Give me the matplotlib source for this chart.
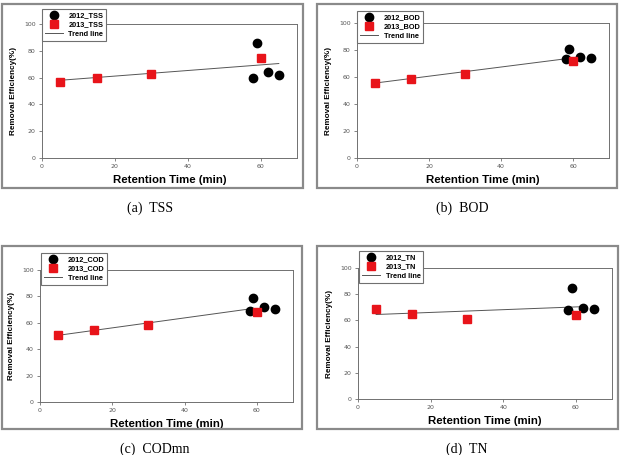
import matplotlib.pyplot as plt
from matplotlib.patches import Rectangle

# Data
x2012 = [58, 59, 62, 65]
x2013 = [5, 15, 30, 60]

tss_2012 = [60, 85.5, 64, 62]
tss_2013 = [57, 60, 63, 75]
tss_trend_x = [5, 65]
tss_trend_y = [58, 70.5]

bod_2012 = [73, 80.5, 75, 74]
bod_2013 = [55.5, 58.5, 62, 72]
bod_trend_x = [5, 58]
bod_trend_y = [55.5, 73.5]

cod_2012 = [69, 79, 72, 70.5]
cod_2013 = [51, 54.5, 58, 68.5]
cod_trend_x = [5, 58]
cod_trend_y = [50.5, 70.5]

tn_2012 = [68, 85, 69.5, 69]
tn_2013 = [68.5, 65, 61, 64.5]
tn_trend_x = [5, 62]
tn_trend_y = [64.5, 70.5]

panels = [
    ('TSS', '(a)  TSS', tss_2012, tss_2013, tss_trend_x, tss_trend_y),
    ('BOD', '(b)  BOD', bod_2012, bod_2013, bod_trend_x, bod_trend_y),
    ('COD', '(c)  CODmn', cod_2012, cod_2013, cod_trend_x, cod_trend_y),
    ('TN', '(d)  TN', tn_2012, tn_2013, tn_trend_x, tn_trend_y),
]

W, H = 623, 455
fig = plt.figure(figsize=(W / 100, H / 100), dpi=100)

def fx(px):
    return px / W

def fy(py):
    return 1 - py / H

# pixel boxes: axes (left, top, right, bottom), frame, caption centre, legend corner
ax_boxes = [(42, 24, 297, 158), (357, 23, 609, 158),
            (40, 270, 293, 402), (358, 268, 612, 399)]
frames = [(2, 4, 303, 188), (317, 4, 617, 188),
          (2, 246, 302, 429), (317, 246, 618, 429)]
captions = [(150, 208), (462, 208), (155, 449), (467, 449)]
legend_pos = [(42, 9), (357, 11), (41, 253), (359, 251)]

red = '#e8141a'
grey = '#707070'

for i, (name, cap, y12, y13, tx, ty) in enumerate(panels):
    l, t, r, b = frames[i]
    fig.patches.append(Rectangle((fx(l), fy(b)), fx(r - l), (b - t) / H,
                                 transform=fig.transFigure, fill=False,
                                 edgecolor='#8a8a8a', linewidth=1.6))
    l, t, r, b = ax_boxes[i]
    ax = fig.add_axes([fx(l), fy(b), fx(r - l), (b - t) / H])
    ax.plot(tx, ty, color='#555555', linewidth=0.7, label='Trend line', zorder=2)
    ax.plot(x2012, y12, 'o', color='black', markersize=6, label='2012_' + name, zorder=3)
    ax.plot(x2013, y13, 's', color=red, markersize=5.3, label='2013_' + name, zorder=4)
    ax.set_xlim(0, 70)
    ax.set_ylim(0, 100)
    ax.set_xticks([0, 20, 40, 60])
    ax.set_yticks([0, 20, 40, 60, 80, 100])
    ax.tick_params(labelsize=4.5, labelcolor='#555555', length=2.5, width=0.6,
                   color=grey, pad=2)
    for s in ax.spines.values():
        s.set_color(grey)
        s.set_linewidth(0.7)
    ax.set_xlabel('Retention Time (min)', fontsize=8.2, fontweight='bold',
                  family='Liberation Sans', labelpad=4)
    ax.set_ylabel('Removal Efficiency(%)', fontsize=5.9, fontweight='bold',
                  family='Liberation Sans', labelpad=5)
    h, lab = ax.get_legend_handles_labels()
    lx, ly = legend_pos[i]
    leg = ax.legend([h[1], h[2], h[0]], [lab[1], lab[2], lab[0]],
                    loc='upper left', bbox_to_anchor=(fx(lx), fy(ly)),
                    bbox_transform=fig.transFigure, fancybox=False,
                    framealpha=1, edgecolor=grey, borderaxespad=0,
                    prop={'size': 5.3, 'weight': 'bold', 'family': 'Liberation Sans'},
                    handlelength=2.4, handletextpad=0.8, borderpad=0.4,
                    labelspacing=0.3, markerscale=1.0)
    leg.get_frame().set_linewidth(0.8)
    leg.set_zorder(10)
    cx, cy = captions[i]
    fig.text(fx(cx), fy(cy), cap, ha='center', va='center', fontsize=10,
             family='Liberation Serif')

fig.savefig('out.png', dpi=100)
